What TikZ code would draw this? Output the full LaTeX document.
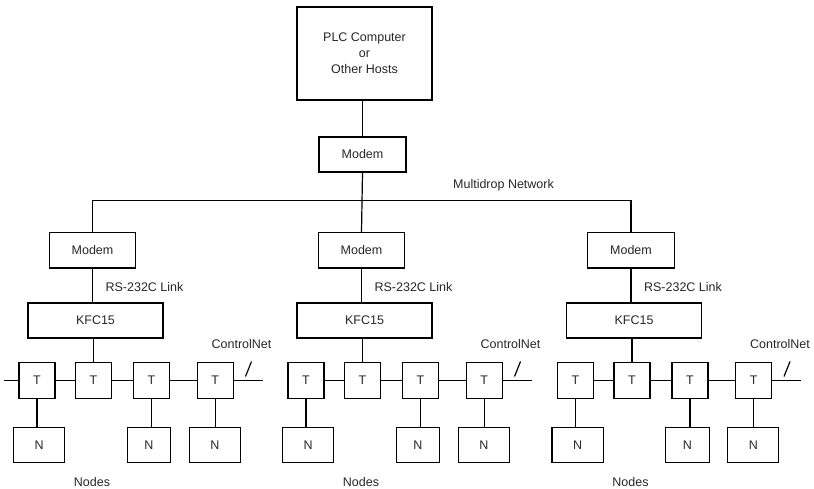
\documentclass[tikz,border=0pt]{standalone}
\usepackage{fontspec}
\setmainfont{Liberation Sans}
\begin{document}
\begin{tikzpicture}[x=1pt,y=-1pt,line width=1.2pt,
  box/.style={draw=black,line width=1.2pt,inner sep=0pt,align=center,
    font=\fontsize{12.5}{16}\selectfont,text=black!85},
  lbl/.style={anchor=base,inner sep=0pt,font=\fontsize{12.5}{16}\selectfont,text=black!85}]
\useasboundingbox (0,0) rectangle (814,489);
% top
\node[box,minimum width=135,minimum height=93] (plc) at (364.5,53.5) {PLC Computer\\or\\Other Hosts};
\node[box,minimum width=87,minimum height=35] (m0) at (362.5,154.5) {Modem};
\draw (m0.north) -- (m0.north |- plc.south);
\node[lbl] (mnet) at (503.5,188.5) {Multidrop Network};
\foreach \g/\dx in {a/0,b/269,c/538.5}{
  \node[box,minimum width=86.4,minimum height=35.3] (m\g) at (92.5+\dx,250.4) {Modem};
  \node[box,minimum width=135,minimum height=35] (k\g) at (95.5+\dx,320.5) {KFC15};
  \node[box,minimum width=36,minimum height=36] (t1\g) at (37+\dx,380.5) {T};
  \node[box,minimum width=36,minimum height=36] (t2\g) at (93.5+\dx,380.5) {T};
  \node[box,minimum width=36,minimum height=36] (t3\g) at (151.5+\dx,380.5) {T};
  \node[box,minimum width=36,minimum height=36] (t4\g) at (215.1+\dx,380.5) {T};
  \node[box,minimum width=51.4,minimum height=35] (n1\g) at (39.1+\dx,445.2) {N};
  \node[box,minimum width=43.3,minimum height=35] (n3\g) at (149+\dx,445.2) {N};
  \node[box,minimum width=51,minimum height=35] (n4\g) at (214.8+\dx,445.2) {N};
  \node[lbl,anchor=base west] (rs\g) at (105+\dx,291.5) {RS-232C Link};
  \node[lbl] (cn\g) at (241.5+\dx,348.5) {ControlNet};
  \node[lbl] (nd\g) at (92+\dx,486) {Nodes};
  \coordinate (tail\g) at (262.5+\dx,380.5);
  \coordinate (sa\g) at (245.5+\dx,376.5);
  \coordinate (sb\g) at (251.5+\dx,361.5);
  \draw (m\g.south) -- (m\g.south |- k\g.north);
  \draw (t2\g.north) -- (t2\g.north |- k\g.south);
  \draw (t1\g.east) -- (t2\g.west);
  \draw (t2\g.east) -- (t3\g.west);
  \draw (t3\g.east) -- (t4\g.west);
  \draw (t4\g.east) -- (tail\g);
  \draw (sa\g) -- (sb\g);
  \draw (t1\g.south) -- (t1\g.south |- n1\g.north);
  \draw (t3\g.south) -- (t3\g.south |- n3\g.north);
  \draw (t4\g.south) -- (t4\g.south |- n4\g.north);
}
\coordinate (west) at (4,380.5);
\draw (west) -- (t1a.west);
\draw (ma.north) -- ++(0,-32) -| (mc.north);
\draw (m0.south) -- (mb.north);
\end{tikzpicture}
\end{document}
